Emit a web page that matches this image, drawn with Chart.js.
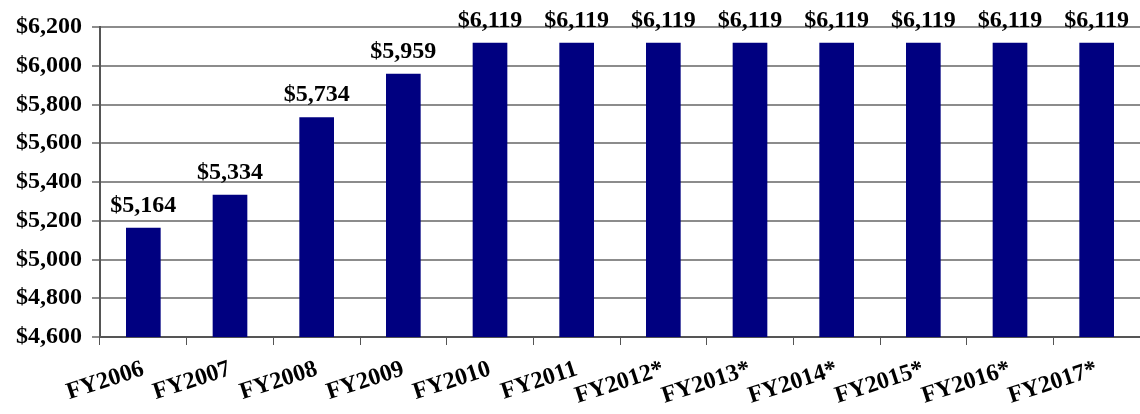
<!DOCTYPE html>
<html>
<head>
<meta charset="utf-8">
<script src="https://cdn.jsdelivr.net/npm/chart.js@4/dist/chart.umd.min.js"></script>
<style>
  html, body { margin: 0; padding: 0; background: #fff; }
  #wrap { width: 1140px; height: 414px; position: relative; }
</style>
</head>
<body>
<div id="wrap"><canvas id="barChart"></canvas></div>
<script>
var years = ['FY2006', 'FY2007', 'FY2008', 'FY2009', 'FY2010', 'FY2011',
             'FY2012*', 'FY2013*', 'FY2014*', 'FY2015*', 'FY2016*', 'FY2017*'];
var amounts = [5164, 5334, 5734, 5959, 6119, 6119, 6119, 6119, 6119, 6119, 6119, 6119];
var yMin = 4600, yMax = 6200, yStep = 200;

function dollars(v) {
    return '$' + Number(v).toLocaleString('en-US');
}

var serifBold = { family: '"Liberation Serif", "Times New Roman", serif', size: 24, weight: 'bold' };

// value labels above each bar
var barLabels = {
    id: 'barLabels',
    afterDatasetsDraw: function(chart) {
        var ctx = chart.ctx;
        var meta = chart.getDatasetMeta(0);
        ctx.save();
        ctx.font = 'bold 24px "Liberation Serif", "Times New Roman", serif';
        ctx.fillStyle = '#000';
        ctx.textAlign = 'center';
        ctx.textBaseline = 'alphabetic';
        meta.data.forEach(function(bar, i) {
            ctx.fillText(dollars(amounts[i]), bar.x, bar.y - 16);
        });
        ctx.restore();
    }
};

var ctx = document.getElementById('barChart').getContext('2d');
var myChart = new Chart(ctx, {
    type: 'bar',
    data: {
        labels: years,
        datasets: [{
            data: amounts,
            backgroundColor: '#000080',
            borderWidth: 0,
            barPercentage: 0.4,
            categoryPercentage: 1.0
        }]
    },
    options: {
        responsive: true,
        maintainAspectRatio: false,
        animation: false,
        layout: { padding: { top: 27, right: 0, left: 0, bottom: 0 } },
        plugins: {
            legend: { display: false },
            tooltip: { enabled: false }
        },
        scales: {
            x: {
                grid: {
                    offset: true,
                    drawOnChartArea: false,
                    drawTicks: true,
                    tickLength: 8,
                    color: '#555'
                },
                border: { color: '#555', width: 2 },
                ticks: {
                    color: '#000',
                    font: serifBold,
                    minRotation: 18,
                    maxRotation: 18,
                    autoSkip: false,
                    padding: 10
                },
                afterFit: function(scale) { scale.height = 77; }
            },
            y: {
                min: yMin,
                max: yMax,
                grid: {
                    color: '#8c8c8c',
                    lineWidth: 2,
                    tickLength: 8
                },
                border: { color: '#555', width: 2 },
                ticks: {
                    stepSize: yStep,
                    color: '#000',
                    font: serifBold,
                    padding: 10,
                    callback: function(v) { return dollars(v); }
                },
                afterFit: function(scale) { scale.width = 100; }
            }
        }
    },
    plugins: [barLabels]
});
</script>
</body>
</html>
